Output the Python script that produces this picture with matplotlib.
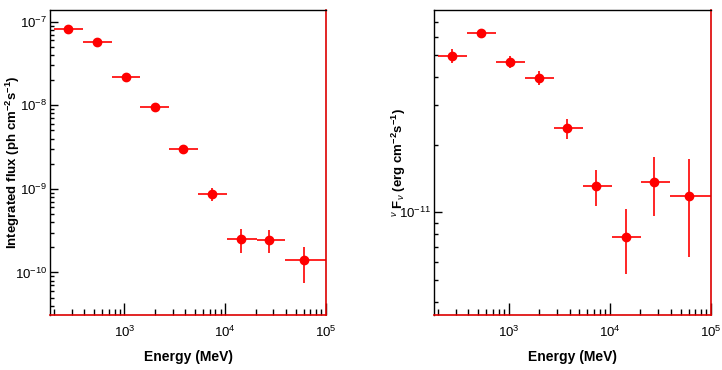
import matplotlib
matplotlib.use('Agg')
import matplotlib.pyplot as plt
from matplotlib.ticker import LogLocator, NullFormatter, LogFormatterSciNotation

plt.rcParams['font.family'] = ['Liberation Sans', 'DejaVu Sans']
plt.rcParams['mathtext.fontset'] = 'custom'
plt.rcParams['mathtext.rm'] = 'Liberation Sans'
plt.rcParams['mathtext.it'] = 'Liberation Sans:italic'
plt.rcParams['mathtext.bf'] = 'Liberation Sans:bold'

# energy bins (MeV)
e_center = [277, 537, 1030, 1995, 3810, 7380, 14300, 27400, 60500]
e_low = [200, 386, 750, 1440, 2790, 5390, 10500, 20500, 39500]
e_high = [386, 750, 1440, 2790, 5390, 10500, 20500, 39500, 100000]

# integrated flux (ph cm^-2 s^-1)
flux = [8.1e-8, 5.66e-8, 2.16e-8, 9.6e-9, 3.01e-9, 8.8e-10, 2.55e-10, 2.43e-10, 1.4e-10]
flux_err_lo = [2e-9, 1.5e-9, 6e-10, 3e-10, 1.2e-10, 1.7e-10, 0.82e-10, 0.70e-10, 0.65e-10]
flux_err_hi = [2e-9, 1.5e-9, 6e-10, 3e-10, 1.2e-10, 1.5e-10, 0.81e-10, 0.77e-10, 0.62e-10]

# nu F_nu (erg cm^-2 s^-1)
sed = [4.97e-11, 6.28e-11, 4.68e-11, 3.96e-11, 2.36e-11, 1.31e-11, 7.79e-12, 1.36e-11, 1.18e-11]
sed_err_lo = [0.34e-11, 0.15e-11, 0.28e-11, 0.26e-11, 0.25e-11, 0.24e-11, 0.247e-11, 0.394e-11, 0.545e-11]
sed_err_hi = [0.34e-11, 0.15e-11, 0.28e-11, 0.28e-11, 0.24e-11, 0.23e-11, 0.251e-11, 0.41e-11, 0.54e-11]


def style_axis(ax, ylim, ylabel, label_x):
    ax.set_xscale('log')
    ax.set_yscale('log')
    ax.set_xlim(183, 1e5)
    ax.set_ylim(*ylim)
    for s in ['top', 'left']:
        ax.spines[s].set_color('black')
        ax.spines[s].set_linewidth(1.0)
    for s in ['bottom', 'right']:
        ax.spines[s].set_color('#dd0000')
        ax.spines[s].set_linewidth(1.2)
    ax.tick_params(which='both', direction='in', top=False, right=False,
                   colors='black', labelsize=9.5, width=1.0)
    ax.tick_params(axis='x', which='major', length=9, pad=7)
    ax.tick_params(axis='x', which='minor', length=4.5)
    ax.tick_params(axis='y', which='major', length=6, pad=2)
    ax.tick_params(axis='y', which='minor', length=3)
    ax.xaxis.set_major_locator(LogLocator(base=10, numticks=10))
    ax.xaxis.set_minor_locator(LogLocator(base=10, subs=range(2, 10), numticks=20))
    ax.xaxis.set_minor_formatter(NullFormatter())
    ax.yaxis.set_major_locator(LogLocator(base=10, numticks=10))
    ax.yaxis.set_major_formatter(LogFormatterSciNotation())
    ax.yaxis.set_minor_locator(LogLocator(base=10, subs=range(2, 10), numticks=20))
    ax.yaxis.set_minor_formatter(NullFormatter())
    ax.set_xlabel('Energy (MeV)', fontsize=10, fontweight='bold')
    ax.xaxis.set_label_coords(0.5, -0.115)
    ax.set_ylabel(ylabel, fontsize=9.5, fontweight='bold')
    ax.yaxis.set_label_coords(label_x, 0.5)


xerr = [[c - lo for c, lo in zip(e_center, e_low)],
        [hi - c for c, hi in zip(e_center, e_high)]]

fig = plt.figure(figsize=(7.22, 3.70), dpi=100)
ax1 = fig.add_axes([0.0693, 0.1486, 0.3823, 0.8243])
ax2 = fig.add_axes([0.6011, 0.1486, 0.3837, 0.8243])

ax1.errorbar(e_center, flux, xerr=xerr, yerr=[flux_err_lo, flux_err_hi],
             fmt='o', color='red', ms=6, elinewidth=1.2, capsize=0)
style_axis(ax1, (3.1e-11, 1.38e-7),
           r'Integrated flux (ph cm$^{\mathbf{-2}}$s$^{\mathbf{-1}}$)', -0.10)

ax2.errorbar(e_center, sed, xerr=xerr, yerr=[sed_err_lo, sed_err_hi],
             fmt='o', color='red', ms=6, elinewidth=1.2, capsize=0)
style_axis(ax2, (3.49e-12, 7.94e-11),
           r'$^{\nu}$ F$_{\nu}$ (erg cm$^{\mathbf{-2}}$s$^{\mathbf{-1}}$)', -0.094)

fig.savefig('out.png', dpi=100)
